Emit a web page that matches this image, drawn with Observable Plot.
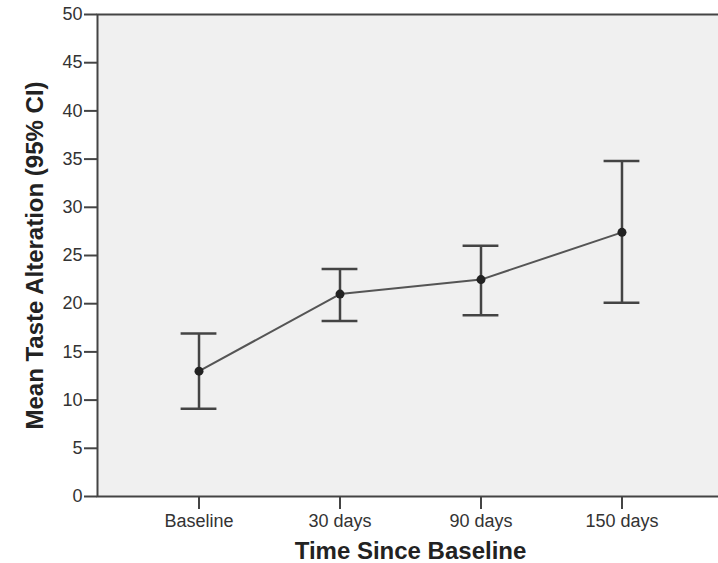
<!DOCTYPE html>
<html>
<head>
<meta charset="utf-8">
<script src="https://cdn.jsdelivr.net/npm/d3@7"></script>
<script src="https://cdn.jsdelivr.net/npm/@observablehq/plot@0.6"></script>
<style>
  html, body { margin: 0; padding: 0; background: #fff; overflow: hidden; }
  #chart { width: 718px; height: 563px; overflow: hidden; }
  #chart svg g[aria-label*="axis"] line,
  #chart svg g[aria-label*="axis"] path { stroke-width: 2px; stroke: #444; }
</style>
</head>
<body>
<div id="chart"></div>
<script>
// Data
const categories = ["Baseline", "30 days", "90 days", "150 days"];
const means = [13.0, 21.0, 22.5, 27.4];
const lower = [9.1, 18.2, 18.8, 20.1];
const upper = [16.9, 23.6, 26.0, 34.8];
const yTicks = [0, 5, 10, 15, 20, 25, 30, 35, 40, 45, 50];
const xTitle = "Time Since Baseline";
const yTitle = "Mean Taste Alteration (95% CI)";

const rows = categories.map((c, i) => ({i, c, mean: means[i], lo: lower[i], hi: upper[i]}));
const capHalf = 0.127;

const chart = Plot.plot({
  width: 718,
  height: 563,
  marginLeft: 97,
  marginRight: -5,
  marginTop: 14,
  marginBottom: 67,
  style: {fontFamily: "'Liberation Sans', Arial, sans-serif", fontSize: "18px", color: "#333", background: "#fff", overflow: "hidden"},
  x: {
    domain: [-0.72, 3.72],
    ticks: categories.map((c, i) => i),
    tickFormat: (d) => categories[d],
    tickSize: 13,
    tickPadding: 5,
    label: null
  },
  y: {
    domain: [0, 50],
    ticks: yTicks,
    tickSize: 13,
    tickPadding: 2,
    label: null
  },
  marks: [
    Plot.frame({fill: "#f0f0f0", stroke: "#444", strokeWidth: 2}),
    Plot.ruleX(rows, {x: "i", y1: "lo", y2: "hi", stroke: "#444", strokeWidth: 2.5}),
    Plot.ruleY(rows, {y: "hi", x1: d => d.i - capHalf, x2: d => d.i + capHalf, stroke: "#444", strokeWidth: 2.5}),
    Plot.ruleY(rows, {y: "lo", x1: d => d.i - capHalf, x2: d => d.i + capHalf, stroke: "#444", strokeWidth: 2.5}),
    Plot.line(rows, {x: "i", y: "mean", stroke: "#555", strokeWidth: 2}),
    Plot.dot(rows, {x: "i", y: "mean", r: 4.5, fill: "#222", stroke: "none"}),
    Plot.text([xTitle], {frameAnchor: "bottom", dy: 55, textAnchor: "middle", lineAnchor: "middle", text: d => d, fontSize: 24, fontWeight: "bold", fill: "#222"}),
    Plot.text([yTitle], {frameAnchor: "left", dx: -62, rotate: -90, textAnchor: "middle", lineAnchor: "middle", text: d => d, fontSize: 24, fontWeight: "bold", fill: "#222"})
  ]
});
document.getElementById("chart").append(chart);
</script>
</body>
</html>
